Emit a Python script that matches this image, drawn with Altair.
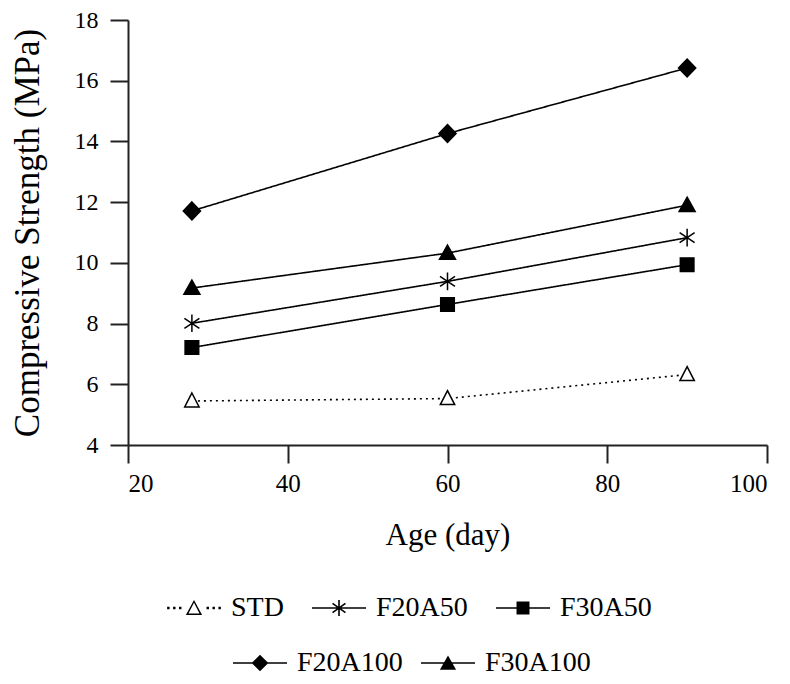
import altair as alt
import pandas as pd
import math

# ---------------- data ----------------
ages = [28, 60, 90]
series_names = ["STD", "F20A50", "F30A50", "F20A100", "F30A100"]
std_vals = [5.45, 5.53, 6.32]
f20a50_vals = [8.01, 9.39, 10.83]
f30a50_vals = [7.21, 8.63, 9.94]
f20a100_vals = [11.71, 14.26, 16.42]
f30a100_vals = [9.17, 10.32, 11.90]
legend_row1 = ["STD", "F20A50", "F30A50"]
legend_row2 = ["F20A100", "F30A100"]
x_ticks = [20, 40, 60, 80, 100]
y_ticks = [4, 6, 8, 10, 12, 14, 16, 18]

values = {
    "STD": std_vals,
    "F20A50": f20a50_vals,
    "F30A50": f30a50_vals,
    "F20A100": f20a100_vals,
    "F30A100": f30a100_vals,
}
rows = []
for s in series_names:
    for a, v in zip(ages, values[s]):
        rows.append({"series": s, "age": a, "strength": v})
df = pd.DataFrame(rows)

# ---------------- symbol geometry helpers ----------------
def area(pts):
    return 0.5 * sum(pts[i][0] * pts[(i + 1) % len(pts)][1] - pts[(i + 1) % len(pts)][0] * pts[i][1]
                     for i in range(len(pts)))

def poly(pts, hole=False):
    a = area(pts)
    if (a < 0 and not hole) or (a > 0 and hole):
        pts = list(reversed(pts))
    return "M" + "L".join(f"{x:.3f},{y:.3f}" for x, y in pts) + "Z"

def bar(x1, y1, x2, y2, hw):
    dx, dy = x2 - x1, y2 - y1
    L = math.hypot(dx, dy)
    nx, ny = -dy / L * hw, dx / L * hw
    return poly([(x1 + nx, y1 + ny), (x2 + nx, y2 + ny), (x2 - nx, y2 - ny), (x1 - nx, y1 - ny)])

# plot markers (size 400 -> 1 unit = 10 px)
m_open_tri = "M0,-0.8L0.72,0.6L-0.72,0.6Z"
m_aster = "M0,-0.88V0.88M-0.75,-0.5L0.75,0.5M-0.75,0.5L0.75,-0.5"
m_square = "M-0.68,-0.68H0.68V0.68H-0.68Z"
m_diamond = "M0,-0.9L0.86,0L0,0.9L-0.86,0Z"
m_tri = "M0,-0.8L0.8,0.62L-0.8,0.62Z"
marker_paths = [m_open_tri, m_aster, m_square, m_diamond, m_tri]
marker_fills = ["white", "black", "black", "black", "black"]
dashes = [[2, 4], [1, 0], [1, 0], [1, 0], [1, 0]]

# legend symbols (size 2916 -> 1 unit = 27 px), all filled shapes
lw = 0.03
line_full = bar(-1, 0, 1, 0, lw)
dots = "".join(poly([(x - 0.045, -0.045), (x + 0.045, -0.045), (x + 0.045, 0.045), (x - 0.045, 0.045)])
               for x in [-0.95, -0.73, -0.51, 0.51, 0.73, 0.95])
tri_o = [(0, -0.3), (0.3, 0.26), (-0.3, 0.26)]
tri_i = [(0, -0.19), (0.205, 0.2), (-0.205, 0.2)]
l_std = dots + poly(tri_o) + poly(tri_i, hole=True)
l_aster = line_full + bar(0, -0.3, 0, 0.3, 0.03) + bar(-0.24, -0.17, 0.24, 0.17, 0.03) + bar(-0.24, 0.17, 0.24, -0.17, 0.03)
l_square = line_full + poly([(-0.24, -0.24), (0.24, -0.24), (0.24, 0.24), (-0.24, 0.24)])
l_diamond = line_full + poly([(0, -0.31), (0.31, 0), (0, 0.31), (-0.31, 0)])
l_tri = line_full + poly([(0, -0.28), (0.3, 0.25), (-0.3, 0.25)])
legend_paths = {"STD": l_std, "F20A50": l_aster, "F30A50": l_square, "F20A100": l_diamond, "F30A100": l_tri}

FONT = "Liberation Serif"

x_enc = alt.X("age:Q", scale=alt.Scale(domain=[20, 100], nice=False, zero=False),
              axis=alt.Axis(title="Age (day)", values=x_ticks, labelFont=FONT, labelFontSize=25,
                            titleFont=FONT, titleFontSize=31, labelPadding=8, titlePadding=24))
y_enc = alt.Y("strength:Q", scale=alt.Scale(domain=[4, 18], nice=False, zero=False),
              axis=alt.Axis(title="Compressive Strength (MPa)", values=y_ticks, labelFont=FONT,
                            labelFontSize=24, titleFont=FONT, titleFontSize=35, labelPadding=12,
                            titlePadding=29))

base = alt.Chart(df)

lines = base.mark_line(color="black", strokeWidth=1.6).encode(
    x=x_enc, y=y_enc, detail="series:N",
    strokeDash=alt.StrokeDash("series:N", scale=alt.Scale(domain=series_names, range=dashes), legend=None),
)

points = base.mark_point(size=400, stroke="black", strokeWidth=1.5, opacity=1).encode(
    x=x_enc, y=y_enc,
    shape=alt.Shape("series:N", scale=alt.Scale(domain=series_names, range=marker_paths), legend=None),
    fill=alt.Fill("series:N", scale=alt.Scale(domain=series_names, range=marker_fills), legend=None),
)

def legend_layer(names, lx, ly, colpad):
    return base.transform_filter(
        alt.FieldOneOfPredicate(field="series", oneOf=names)
    ).mark_point(filled=True, color="black", opacity=0).encode(
        x=x_enc, y=y_enc,
        shape=alt.Shape("series:N",
                        scale=alt.Scale(domain=names, range=[legend_paths[n] for n in names]),
                        legend=alt.Legend(orient="none", legendX=lx, legendY=ly, direction="horizontal",
                                          title=None, symbolSize=2916, symbolOpacity=1,
                                          symbolFillColor="black", symbolStrokeWidth=0,
                                          labelFont=FONT, labelFontSize=28, labelColor="black",
                                          labelOffset=10, columnPadding=colpad, padding=0)),
    )

leg1 = legend_layer(legend_row1, 39, 561, 28)
leg2 = legend_layer(legend_row2, 105, 616, 18)

chart = alt.layer(lines, points, leg1, leg2).resolve_scale(shape="independent").properties(
    width=639, height=425,
    autosize=alt.AutoSizeParams(type="none"),
    padding={"left": 120, "top": 12, "right": 15, "bottom": 231},
).configure(font=FONT).configure_view(stroke=None).configure_axis(
    labelColor="black", titleColor="black", titleFontWeight="normal",
    domainColor="#222", domainWidth=2, tickColor="#222", tickWidth=2, tickSize=18,
    grid=False,
)

chart.save("out.html", embed_options={"renderer": "svg", "actions": False})
